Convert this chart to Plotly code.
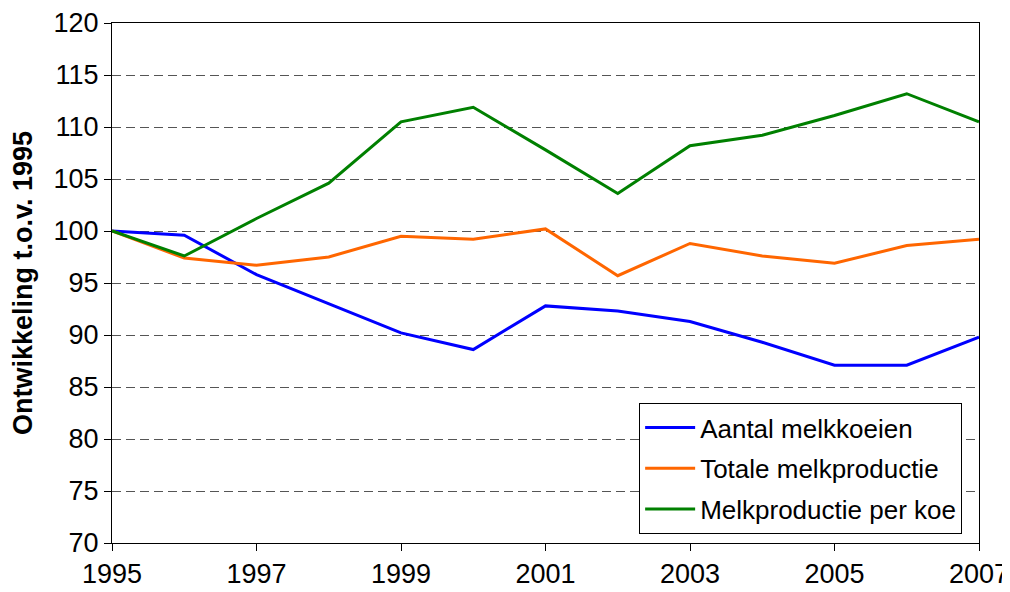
import plotly.graph_objects as go

years = list(range(1995, 2008))
aantal_melkkoeien = [100, 99.6, 95.8, 93.0, 90.2, 88.6, 92.8, 92.3, 91.3, 89.3, 87.1, 87.1, 89.8]
totale_melkproductie = [100, 97.4, 96.7, 97.5, 99.5, 99.2, 100.2, 95.7, 98.8, 97.6, 96.9, 98.6, 99.2]
melkproductie_per_koe = [100, 97.6, 101.2, 104.6, 110.5, 111.9, 107.8, 103.6, 108.2, 109.2, 111.1, 113.2, 110.5]

series = [
    ("Aantal melkkoeien", aantal_melkkoeien, "#0000FF"),
    ("Totale melkproductie", totale_melkproductie, "#FF6600"),
    ("Melkproductie per koe", melkproductie_per_koe, "#008000"),
]

fig = go.Figure()
for name, vals, col in series:
    fig.add_trace(go.Scatter(x=years, y=vals, name=name, mode="lines", legendgroup=name,
                             line=dict(color=col, width=3)))

# page has an 8px body margin, so the figure is 8px smaller than the window
fig.update_layout(
    width=1002, height=584,
    margin=dict(l=104, r=31, t=15, b=49),
    paper_bgcolor="white", plot_bgcolor="white",
    font=dict(family="Liberation Sans, Arial", size=26, color="black"),
    showlegend=True,
    legend=dict(x=0.608, y=0.269, xanchor="left", yanchor="top",
                bgcolor="white", bordercolor="black", borderwidth=1,
                font=dict(size=26), itemwidth=50, tracegroupgap=4),
)
fig.update_xaxes(
    range=[1995, 2007], tickmode="array", tickvals=list(range(1995, 2008, 2)),
    showgrid=False, showline=True, linecolor="black", linewidth=1, mirror=True,
    ticks="outside", ticklen=7, tickcolor="black", zeroline=False,
    tickfont=dict(size=27), automargin=False,
)
fig.update_yaxes(
    range=[70, 120], dtick=5, tick0=70,
    showgrid=True, gridcolor="#555555", griddash="9px,5px", gridwidth=1,
    showline=True, linecolor="black", linewidth=1, mirror=True,
    ticks="outside", ticklen=7, tickcolor="black", zeroline=False,
    tickfont=dict(size=27), automargin=False,
    title=dict(text="<b>Ontwikkeling t.o.v. 1995</b>", font=dict(size=27), standoff=15),
)

fig.write_html("out.html")
